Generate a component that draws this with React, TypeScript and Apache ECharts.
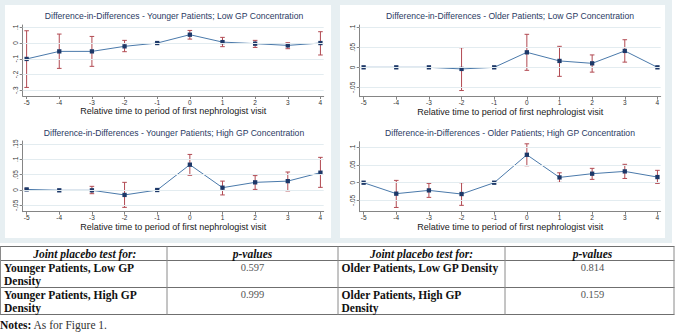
import React, { useEffect, useRef } from "react";
import * as echarts from "echarts";

// ---------- data ----------
const periods = [-5, -4, -3, -2, -1, 0, 1, 2, 3, 4];

const panelTitles = [
  "Difference-in-Differences - Younger Patients; Low GP Concentration",
  "Difference-in-Differences - Older Patients; Low GP Concentration",
  "Difference-in-Differences - Younger Patients; High GP Concentration",
  "Difference-in-Differences - Older Patients; High GP Concentration",
];
const xAxisTitle = "Relative time to period of first nephrologist visit";

// Younger, Low GP
const ylEst = [-0.101, -0.053, -0.053, -0.021, 0, 0.053, 0.006, -0.004, -0.015, 0.0];
const ylLow = [-0.282, -0.161, -0.148, -0.055, null, 0.025, -0.023, -0.028, -0.036, -0.076];
const ylHigh = [0.078, 0.057, 0.042, 0.017, null, 0.08, 0.036, 0.017, 0.002, 0.072];
const ylTicks = [-0.3, -0.2, -0.1, 0, 0.1];

// Older, Low GP
const olEst = [0, 0, 0, -0.004, 0, 0.0375, 0.016, 0.01, 0.041, 0];
const olLow = [null, null, null, -0.058, null, -0.0075, -0.0225, -0.012, 0.013, null];
const olHigh = [null, null, null, 0.049, null, 0.0825, 0.0525, 0.031, 0.069, null];
const olTicks = [-0.05, 0, 0.05, 0.1];

// Younger, High GP
const yhEst = [0.002, -0.001, -0.001, -0.016, 0, 0.0826, 0.0076, 0.025, 0.029, 0.0565];
const yhLow = [-0.001, null, -0.012, -0.0565, null, 0.048, -0.016, 0.002, -0.003, 0.0087];
const yhHigh = [0.004, null, 0.012, 0.025, null, 0.116, 0.029, 0.047, 0.0587, 0.1065];
const yhTicks = [-0.05, 0, 0.05, 0.1, 0.15];

// Older, High GP
const ohEst = [0, -0.031, -0.0217, -0.032, 0, 0.079, 0.015, 0.0255, 0.032, 0.016];
const ohLow = [null, -0.07, -0.0415, -0.064, null, 0.048, 0.001, 0.0094, 0.012, -0.002];
const ohHigh = [null, 0.0066, -0.002, 0.0, null, 0.11, 0.028, 0.0406, 0.052, 0.035];
const ohTicks = [-0.05, 0, 0.05, 0.1];

// Table
const tableHeaders = ["Joint placebo test for:", "p-values"];
const groupsLeft = ["Younger Patients, Low GP\nDensity", "Younger Patients, High GP\nDensity"];
const pLeft = ["0.597", "0.999"];
const groupsRight = ["Older Patients, Low GP Density", "Older Patients, High GP\nDensity"];
const pRight = ["0.814", "0.159"];
const noteBold = "Notes:";
const noteText = " As for Figure 1.";

// ---------- styling / layout ----------
const SANS = "'Liberation Sans', Arial, sans-serif";
const SERIF = "'Liberation Serif', 'Times New Roman', serif";
const LINE = "#4a79aa";
const MARK = "#1d3868";
const RED = "#b24a52";
const AXIS = "#858585";
const GRIDLINE = "#e3ecf0";
const BG = "#e7eff2";

const X_MIN = -5.12;
const X_MAX = 4.1;

const panels = [
  { est: ylEst, lo: ylLow, hi: ylHigh, ticks: ylTicks, ymin: -0.3365, ymax: 0.1146, left: 22.7, top: 25, width: 301, height: 71, tx: 174, ty: 16 },
  { est: olEst, lo: olLow, hi: olHigh, ticks: olTicks, ymin: -0.0734, ymax: 0.1058, left: 359.7, top: 25, width: 301, height: 71.7, tx: 510, ty: 16 },
  { est: yhEst, lo: yhLow, hi: yhHigh, ticks: yhTicks, ymin: -0.0707, ymax: 0.1598, left: 22.7, top: 141, width: 301, height: 70.7, tx: 174, ty: 133.3 },
  { est: ohEst, lo: ohLow, hi: ohHigh, ticks: ohTicks, ymin: -0.082, ymax: 0.116, left: 359.7, top: 141.7, width: 301, height: 70, tx: 510, ty: 133.3 },
];

function fmtY(v: number): string {
  if (Math.abs(v) < 1e-9) return "0";
  const s = String(+v.toFixed(3));
  return s.replace(/^(-?)0\./, "$1.");
}

function buildOption() {
  const grid: any[] = [];
  const xAxis: any[] = [];
  const yAxis: any[] = [];
  const series: any[] = [];
  const graphic: any[] = [];

  // backgrounds
  graphic.push({ type: "rect", z: -10, shape: { x: 0, y: 0, width: 672, height: 243 }, style: { fill: BG }, silent: true });
  graphic.push({ type: "rect", z: -9, shape: { x: 5, y: 5, width: 326, height: 233 }, style: { fill: "#ffffff" }, silent: true });
  graphic.push({ type: "rect", z: -9, shape: { x: 340, y: 5, width: 325, height: 233 }, style: { fill: "#ffffff" }, silent: true });

  panels.forEach((p, i) => {
    grid.push({ left: p.left, top: p.top, width: p.width, height: p.height, containLabel: false });
    xAxis.push({
      type: "value",
      gridIndex: i,
      min: X_MIN,
      max: X_MAX,
      name: xAxisTitle,
      nameLocation: "middle",
      nameGap: 7.5,
      nameTextStyle: { fontFamily: SANS, fontSize: 9, color: "#1a1a1a" },
      axisLine: { show: true, onZero: false, lineStyle: { color: AXIS, width: 1 } },
      axisTick: { show: true, length: 3, customValues: periods, lineStyle: { color: AXIS } },
      axisLabel: { customValues: periods, fontFamily: SANS, fontSize: 6.5, color: "#333", margin: 2.5 },
      splitLine: { show: false },
    });
    yAxis.push({
      type: "value",
      gridIndex: i,
      min: p.ymin,
      max: p.ymax,
      axisLine: { show: true, onZero: false, lineStyle: { color: AXIS, width: 1 } },
      axisTick: { show: true, length: 3, customValues: p.ticks, lineStyle: { color: AXIS } },
      axisLabel: { customValues: p.ticks, rotate: 90, formatter: fmtY, fontFamily: SANS, fontSize: 6.5, color: "#333", margin: 3.5 },
      splitLine: { show: false },
    });

    const ciData: any[] = [];
    periods.forEach((x, k) => {
      if (p.lo[k] != null && p.hi[k] != null) ciData.push([x, p.lo[k], p.hi[k]]);
    });

    series.push({
      type: "custom",
      xAxisIndex: i,
      yAxisIndex: i,
      silent: true,
      data: ciData,
      encode: { x: 0, y: [1, 2] },
      markLine: {
        silent: true,
        symbol: "none",
        label: { show: false },
        lineStyle: { color: GRIDLINE, width: 1, type: "solid" },
        data: p.ticks.map((v) => ({ yAxis: v })),
      },
      renderItem: (params: any, api: any) => {
        const x = api.value(0);
        const a = api.coord([x, api.value(1)]);
        const b = api.coord([x, api.value(2)]);
        const w = 2.3;
        const st = { stroke: RED, lineWidth: 1 };
        return {
          type: "group",
          children: [
            { type: "line", shape: { x1: a[0], y1: a[1], x2: b[0], y2: b[1] }, style: st },
            { type: "line", shape: { x1: a[0] - w, y1: a[1], x2: a[0] + w, y2: a[1] }, style: st },
            { type: "line", shape: { x1: b[0] - w, y1: b[1], x2: b[0] + w, y2: b[1] }, style: st },
          ],
        };
      },
    });

    series.push({
      type: "line",
      xAxisIndex: i,
      yAxisIndex: i,
      silent: true,
      data: periods.map((x, k) => [x, p.est[k]]),
      symbol: "rect",
      symbolSize: 4.3,
      itemStyle: { color: MARK },
      lineStyle: { color: LINE, width: 1 },
      z: 3,
    });

    graphic.push({
      type: "text",
      x: p.tx,
      y: p.ty,
      style: { text: panelTitles[i], fontFamily: SANS, fontSize: 8.6, fill: "#2a3a63", align: "center", verticalAlign: "middle" },
      silent: true,
    });
  });

  // ---------- table ----------
  const tTop = 246.5, hdrBot = 260.5, r1Bot = 287.5, tBot = 314.5;
  const cols = [0.5, 167, 338, 505, 674];
  const hLine = (y: number) => ({ type: "line", shape: { x1: 0, y1: y, x2: 674.5, y2: y }, style: { stroke: "#6f6f6f", lineWidth: 1 }, silent: true });
  [tTop, hdrBot, r1Bot, tBot].forEach((y) => graphic.push(hLine(y)));
  cols.forEach((x) => graphic.push({ type: "line", shape: { x1: x, y1: tTop, x2: x, y2: tBot }, style: { stroke: "#8a8a8a", lineWidth: 1 }, silent: true }));

  const hdrCenters = [(cols[0] + cols[1]) / 2 + 1, (cols[1] + cols[2]) / 2, (cols[2] + cols[3]) / 2, (cols[3] + cols[4]) / 2 + 3];
  hdrCenters.forEach((cx, k) => {
    graphic.push({
      type: "text",
      x: cx,
      y: 253.8,
      style: { text: tableHeaders[k % 2], fontFamily: SERIF, fontSize: 11.5, fontWeight: "bold", fontStyle: "italic", fill: "#111", align: "center", verticalAlign: "middle" },
      silent: true,
    });
  });
  const rowTops = [261.5, 288.5];
  const LH = 12.8;
  groupsLeft.forEach((g, k) => {
    graphic.push({ type: "text", x: 4, y: rowTops[k], style: { text: g, fontFamily: SERIF, fontSize: 11.5, fontWeight: "bold", fill: "#111", lineHeight: LH, align: "left", verticalAlign: "top" }, silent: true });
    graphic.push({ type: "text", x: hdrCenters[1], y: rowTops[k], style: { text: pLeft[k], fontFamily: SERIF, fontSize: 10.5, fill: "#555", lineHeight: LH, align: "center", verticalAlign: "top" }, silent: true });
  });
  groupsRight.forEach((g, k) => {
    graphic.push({ type: "text", x: 341.5, y: rowTops[k], style: { text: g, fontFamily: SERIF, fontSize: 11.5, fontWeight: "bold", fill: "#111", lineHeight: LH, align: "left", verticalAlign: "top" }, silent: true });
    graphic.push({ type: "text", x: hdrCenters[3], y: rowTops[k], style: { text: pRight[k], fontFamily: SERIF, fontSize: 10.5, fill: "#555", lineHeight: LH, align: "center", verticalAlign: "top" }, silent: true });
  });
  graphic.push({
    type: "text",
    x: 0,
    y: 325,
    style: {
      text: "{b|" + noteBold + "}{n|" + noteText + "}",
      rich: {
        b: { fontFamily: SERIF, fontSize: 11.5, fontWeight: "bold", fill: "#111" },
        n: { fontFamily: SERIF, fontSize: 11.5, fill: "#333" },
      },
      align: "left",
      verticalAlign: "middle",
    },
    silent: true,
  });

  return {
    animation: false,
    backgroundColor: "#ffffff",
    grid,
    xAxis,
    yAxis,
    series,
    graphic: { elements: graphic },
  };
}

export default function App() {
  const ref = useRef<HTMLDivElement>(null);
  useEffect(() => {
    if (!ref.current) return;
    const chart = echarts.init(ref.current, undefined, { renderer: "svg" });
    chart.setOption(buildOption() as any);
    return () => chart.dispose();
  }, []);
  return (
    <div
      ref={ref}
      style={{ position: "absolute", left: 0, top: 0, width: 677, height: 334 }}
    />
  );
}
